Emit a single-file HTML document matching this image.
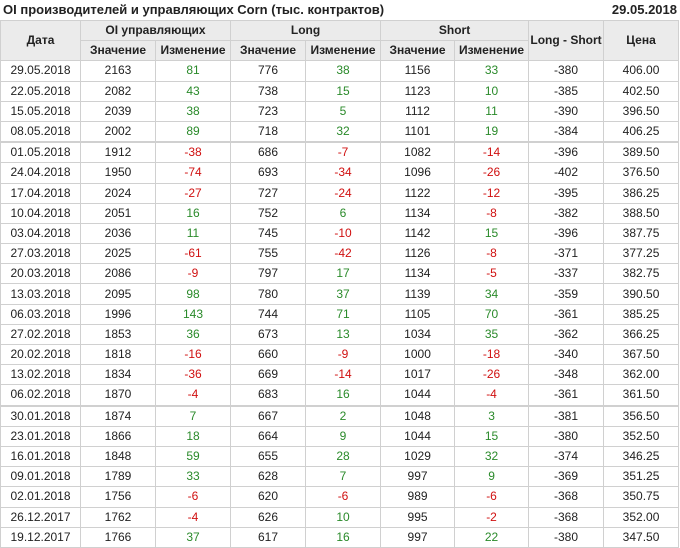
<!DOCTYPE html>
<html><head><meta charset="utf-8"><style>
body{margin:0;width:680px;height:548px;background:#fff;font-family:"Liberation Sans",Arial,sans-serif;color:#222;overflow:hidden}
.t{position:absolute;top:2px;left:3px;font-size:13px;font-weight:bold}
.d{position:absolute;top:2px;right:3px;font-size:13px;font-weight:bold}
table{position:absolute;top:20px;left:0;border-collapse:collapse;table-layout:fixed;width:679px;font-size:12px}
td,th{border:1px solid #d0d0d0;text-align:center;height:19.2px;padding:0;line-height:19px}
th{background:#ebebeb;font-weight:bold;color:#222}
.g{color:#2a8a2a}.r{color:#d01010}
tr.s td{border-bottom:2px solid #d0d0d0}
</style></head><body>
<div class="t">OI производителей и управляющих Corn (тыс. контрактов)</div>
<div class="d">29.05.2018</div>
<table>
<colgroup><col style="width:80px"><col style="width:75px"><col style="width:75px"><col style="width:75px"><col style="width:75px"><col style="width:74px"><col style="width:74px"><col style="width:75px"><col style="width:75px"></colgroup>
<tr><th rowspan="2">Дата</th><th colspan="2">OI управляющих</th><th colspan="2">Long</th><th colspan="2">Short</th><th rowspan="2">Long - Short</th><th rowspan="2">Цена</th></tr>
<tr><th>Значение</th><th>Изменение</th><th>Значение</th><th>Изменение</th><th>Значение</th><th>Изменение</th></tr>
<tr><td>29.05.2018</td><td>2163</td><td class="g">81</td><td>776</td><td class="g">38</td><td>1156</td><td class="g">33</td><td>-380</td><td>406.00</td></tr>
<tr><td>22.05.2018</td><td>2082</td><td class="g">43</td><td>738</td><td class="g">15</td><td>1123</td><td class="g">10</td><td>-385</td><td>402.50</td></tr>
<tr><td>15.05.2018</td><td>2039</td><td class="g">38</td><td>723</td><td class="g">5</td><td>1112</td><td class="g">11</td><td>-390</td><td>396.50</td></tr>
<tr class="s"><td>08.05.2018</td><td>2002</td><td class="g">89</td><td>718</td><td class="g">32</td><td>1101</td><td class="g">19</td><td>-384</td><td>406.25</td></tr>
<tr><td>01.05.2018</td><td>1912</td><td class="r">-38</td><td>686</td><td class="r">-7</td><td>1082</td><td class="r">-14</td><td>-396</td><td>389.50</td></tr>
<tr><td>24.04.2018</td><td>1950</td><td class="r">-74</td><td>693</td><td class="r">-34</td><td>1096</td><td class="r">-26</td><td>-402</td><td>376.50</td></tr>
<tr><td>17.04.2018</td><td>2024</td><td class="r">-27</td><td>727</td><td class="r">-24</td><td>1122</td><td class="r">-12</td><td>-395</td><td>386.25</td></tr>
<tr><td>10.04.2018</td><td>2051</td><td class="g">16</td><td>752</td><td class="g">6</td><td>1134</td><td class="r">-8</td><td>-382</td><td>388.50</td></tr>
<tr><td>03.04.2018</td><td>2036</td><td class="g">11</td><td>745</td><td class="r">-10</td><td>1142</td><td class="g">15</td><td>-396</td><td>387.75</td></tr>
<tr><td>27.03.2018</td><td>2025</td><td class="r">-61</td><td>755</td><td class="r">-42</td><td>1126</td><td class="r">-8</td><td>-371</td><td>377.25</td></tr>
<tr><td>20.03.2018</td><td>2086</td><td class="r">-9</td><td>797</td><td class="g">17</td><td>1134</td><td class="r">-5</td><td>-337</td><td>382.75</td></tr>
<tr><td>13.03.2018</td><td>2095</td><td class="g">98</td><td>780</td><td class="g">37</td><td>1139</td><td class="g">34</td><td>-359</td><td>390.50</td></tr>
<tr><td>06.03.2018</td><td>1996</td><td class="g">143</td><td>744</td><td class="g">71</td><td>1105</td><td class="g">70</td><td>-361</td><td>385.25</td></tr>
<tr><td>27.02.2018</td><td>1853</td><td class="g">36</td><td>673</td><td class="g">13</td><td>1034</td><td class="g">35</td><td>-362</td><td>366.25</td></tr>
<tr><td>20.02.2018</td><td>1818</td><td class="r">-16</td><td>660</td><td class="r">-9</td><td>1000</td><td class="r">-18</td><td>-340</td><td>367.50</td></tr>
<tr><td>13.02.2018</td><td>1834</td><td class="r">-36</td><td>669</td><td class="r">-14</td><td>1017</td><td class="r">-26</td><td>-348</td><td>362.00</td></tr>
<tr class="s"><td>06.02.2018</td><td>1870</td><td class="r">-4</td><td>683</td><td class="g">16</td><td>1044</td><td class="r">-4</td><td>-361</td><td>361.50</td></tr>
<tr><td>30.01.2018</td><td>1874</td><td class="g">7</td><td>667</td><td class="g">2</td><td>1048</td><td class="g">3</td><td>-381</td><td>356.50</td></tr>
<tr><td>23.01.2018</td><td>1866</td><td class="g">18</td><td>664</td><td class="g">9</td><td>1044</td><td class="g">15</td><td>-380</td><td>352.50</td></tr>
<tr><td>16.01.2018</td><td>1848</td><td class="g">59</td><td>655</td><td class="g">28</td><td>1029</td><td class="g">32</td><td>-374</td><td>346.25</td></tr>
<tr><td>09.01.2018</td><td>1789</td><td class="g">33</td><td>628</td><td class="g">7</td><td>997</td><td class="g">9</td><td>-369</td><td>351.25</td></tr>
<tr><td>02.01.2018</td><td>1756</td><td class="r">-6</td><td>620</td><td class="r">-6</td><td>989</td><td class="r">-6</td><td>-368</td><td>350.75</td></tr>
<tr><td>26.12.2017</td><td>1762</td><td class="r">-4</td><td>626</td><td class="g">10</td><td>995</td><td class="r">-2</td><td>-368</td><td>352.00</td></tr>
<tr><td>19.12.2017</td><td>1766</td><td class="g">37</td><td>617</td><td class="g">16</td><td>997</td><td class="g">22</td><td>-380</td><td>347.50</td></tr>
</table>
</body></html>
